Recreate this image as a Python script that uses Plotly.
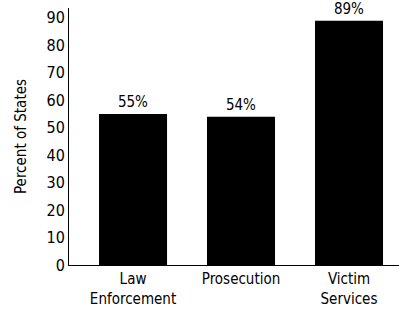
import plotly.graph_objects as go

categories = ["Law<br>Enforcement", "Prosecution", "Victim<br>Services"]
values = [55, 54, 89]
labels = ["55%", "54%", "89%"]
y_ticks = [0, 10, 20, 30, 40, 50, 60, 70, 80, 90]

FONT = "DejaVu Sans Condensed, Liberation Sans Narrow, sans-serif"

fig = go.Figure(go.Bar(
    x=categories, y=values, text=labels, textposition="outside",
    marker=dict(color="black", line=dict(width=0)),
    width=0.63, cliponaxis=False,
    textfont=dict(family=FONT, size=15, color="black"),
))
fig.update_layout(
    width=399, height=312,
    margin=dict(l=69, r=0, t=8, b=47),
    paper_bgcolor="white", plot_bgcolor="white",
    font=dict(family=FONT, size=15, color="black"),
    showlegend=False,
)
fig.update_xaxes(
    range=[-0.593, 2.463], showline=True, linecolor="black", linewidth=1,
    ticks="", showgrid=False, tickfont=dict(size=15),
)
fig.update_yaxes(
    range=[0, 93.6], tickvals=y_ticks, showline=True, linecolor="black", linewidth=1,
    ticks="", showgrid=False, zeroline=False, tickfont=dict(size=16),
    title=dict(text="Percent of States", font=dict(size=15), standoff=16),
)
fig.write_html(
    "out.html",
    config={"displayModeBar": False},
    post_script="document.body.style.margin='0';",
)
